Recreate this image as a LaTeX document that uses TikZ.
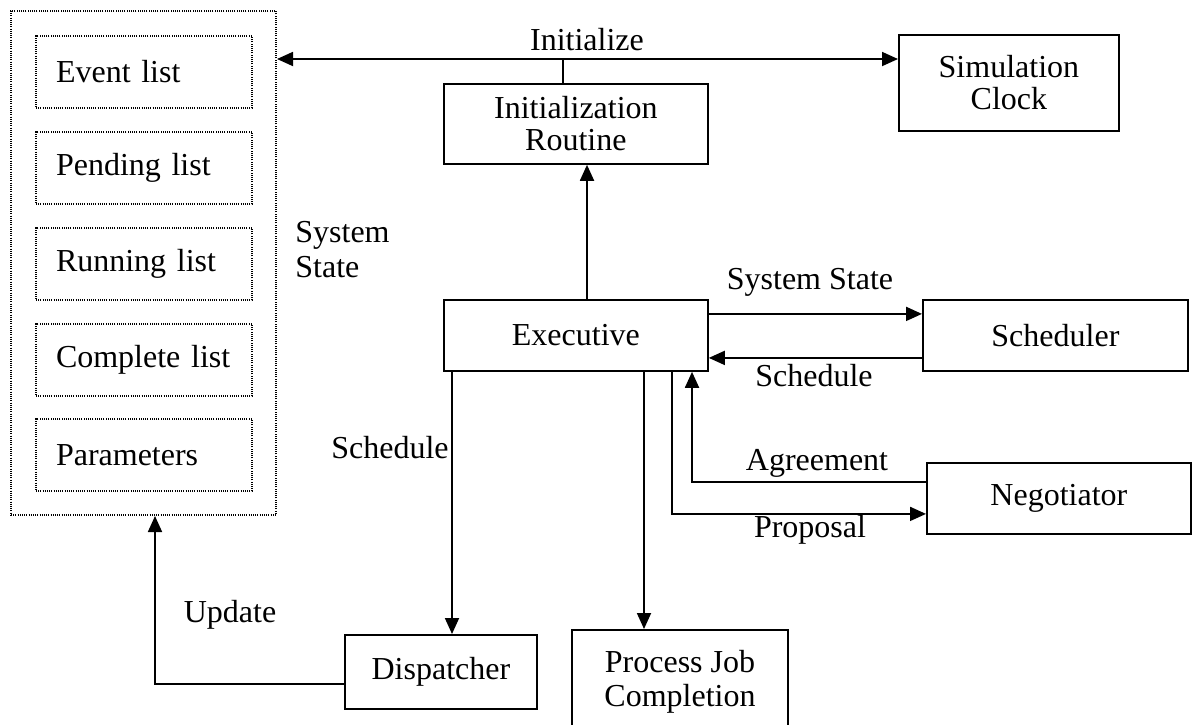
\documentclass[tikz,border=0pt]{standalone}
\usepackage{fontspec}
\setmainfont{Liberation Serif}
\usetikzlibrary{arrows.meta,calc}
\begin{document}
\begin{tikzpicture}[x=0.5pt,y=-0.5pt,
  every node/.style={font=\fontsize{16}{16}\selectfont},
  box/.style={draw,line width=0.9pt,anchor=north west,inner sep=0pt,align=center},
  dbox/.style={draw,line width=1pt,dash pattern=on 0.5pt off 0.6pt,anchor=north west,inner sep=0pt},
  lbox/.style={dbox,inner xsep=10pt,text width=88pt,align=left,minimum height=36pt},
  arr/.style={line width=0.9pt,-{Triangle[length=8pt,width=7pt]}},
  darr/.style={line width=0.9pt,{Triangle[length=8pt,width=7pt]}-{Triangle[length=8pt,width=7pt]}},
  conn/.style={line width=0.9pt},
  lbl/.style={inner sep=0pt}]
\useasboundingbox (0,0) rectangle (1192,724);
\clip (0,0) rectangle (1192,724);

% system state store
\node[dbox, minimum width=132.5pt, minimum height=252pt] (outer) at (10,10) {};
\node[lbox] (ev)   at (35,35)  {Event list};
\node[lbox] (pend) at (35,131) {Pending list};
\node[lbox] (run)  at (35,227) {Running list};
\node[lbox] (comp) at (35,323) {Complete list};
\node[lbox] (par)  at (35,418) {Parameters};

% blocks
\node[box, minimum width=132pt, minimum height=40pt] (initR) at (443,83) {Initialization\\Routine};
\node[box, minimum width=110pt, minimum height=48pt] (clock) at (898,34) {Simulation\\Clock};
\node[box, minimum width=132pt, minimum height=35.5pt] (exec) at (443,299) {Executive};
\node[box, minimum width=132.5pt, minimum height=35.5pt] (sched) at (922,299) {Scheduler};
\node[box, minimum width=132pt, minimum height=35.5pt] (nego) at (926,462) {Negotiator};
\node[box, minimum width=96pt, minimum height=37pt] (disp) at (344,634) {Dispatcher};
\node[box, minimum width=108pt, minimum height=52pt, anchor=north, font=\fontsize{16}{17}\selectfont] (proc) at (680,629) {Process Job\\Completion};

% helper coordinates
\coordinate (yInit) at (0,59);
\coordinate (xTap) at (563,0);
\coordinate (xUp) at (587,0);
\coordinate (xAgr) at (692,0);
\coordinate (xProp) at (672,0);
\coordinate (xProc) at (644,0);
\coordinate (xSch) at (452,0);
\coordinate (xUpd) at (155,0);

% connectors
\draw[darr] (outer.east |- yInit) -- (clock.west |- yInit);
\draw[conn] (initR.north -| xTap) -- (yInit -| xTap);
\draw[arr] (exec.north -| xUp) -- (initR.south -| xUp);
\draw[arr] ([yshift=10.75pt]exec.east) -- ([yshift=10.75pt]sched.west);
\draw[arr] ([yshift=-11.25pt]sched.west) -- ([yshift=-11.25pt]exec.east);
\draw[arr] ([yshift=8.25pt]nego.west) -| (exec.south -| xAgr);
\draw[arr] (exec.south -| xProp) |- ([yshift=-7.75pt]nego.west);
\draw[arr] (exec.south -| xProc) -- (proc.north -| xProc);
\draw[arr] (exec.south -| xSch) -- (disp.north -| xSch);
\draw[arr] ([yshift=-6pt]disp.west) -| (outer.south -| xUpd);

% labels
\node[lbl] (lInit) at (587,40) {Initialize};
\node[lbl] (lSS) at (810,282) {System State};
\node[lbl] (lSch) at (814,376) {Schedule};
\node[lbl] (lAgr) at (817,463) {Agreement};
\node[lbl] (lProp) at (810,530) {Proposal};
\node[lbl, anchor=east] (lSch2) at (449,448) {Schedule};
\node[lbl] (lUpd) at (230,615) {Update};
\node[lbl, anchor=west, align=left, font=\fontsize{16}{17.5}\selectfont] (lSys) at (295,250) {System\\State};
\end{tikzpicture}
\end{document}
